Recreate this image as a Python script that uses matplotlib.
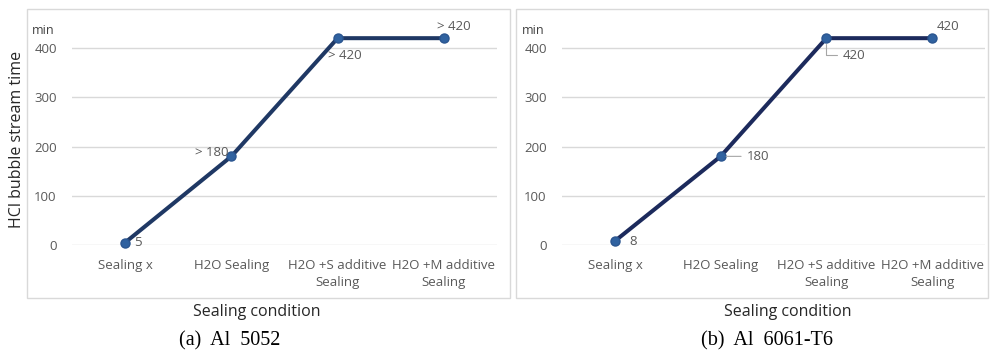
import matplotlib
matplotlib.use("Agg")
import matplotlib.pyplot as plt
from matplotlib.patches import Rectangle

# data
categories = ["Sealing x", "H2O Sealing", "H2O +S additive\nSealing", "H2O +M additive\nSealing"]
time_5052 = [5, 180, 420, 420]
time_6061 = [8, 180, 420, 420]
labels_5052 = ["5", "> 180", "> 420", "> 420"]
labels_6061 = ["8", "180", "420", "420"]
yticks = [0, 100, 200, 300, 400]

W, H = 990, 357
GRAY = "#595959"
GRID = "#D9D9D9"
plt.rcParams["font.family"] = ["Open Sans", "DejaVu Sans"]

fig = plt.figure(figsize=(W / 100, H / 100), dpi=100)


def px_box(x0, y0, x1, y1):
    """pixel box (top-left origin) -> figure fraction [l, b, w, h]"""
    return [x0 / W, 1 - y1 / H, (x1 - x0) / W, (y1 - y0) / H]


def panel(border, plot, values, labels, line_color, label_style, xlab_x, caption, cap_x):
    l, b, w, h = px_box(*border)
    fig.patches.append(Rectangle((l, b), w, h, transform=fig.transFigure,
                                 fill=False, edgecolor=GRID, linewidth=1.0))
    ax = fig.add_axes(px_box(*plot))
    x = list(range(len(categories)))
    ax.set_xlim(-0.5, len(categories) - 0.5)
    ax.set_ylim(0, 450)
    ax.set_yticks(yticks)
    ax.set_xticks(x)
    ax.set_xticklabels(categories, linespacing=1.45)
    for s in ax.spines.values():
        s.set_visible(False)
    ax.tick_params(length=0, labelsize=9.5, labelcolor=GRAY)
    ax.tick_params(axis="y", pad=11)
    ax.tick_params(axis="x", pad=10)
    for yv in yticks:
        ax.axhline(yv, color=GRID, linewidth=1.0, zorder=0)
    ax.plot(x, values, color=line_color, linewidth=2.9, zorder=2,
            marker="o", markersize=6.5, markerfacecolor="#3062A0",
            markeredgecolor="#2A5590", clip_on=False)
    ax.text(-0.068, 0.97, "min", transform=ax.transAxes, fontsize=9,
            color="#404040", ha="center", va="center")

    for xi, yi, lab in zip(x, values, labels):
        dx, dy, ha, lead = label_style[xi]
        kw = {}
        if lead == "h":
            kw["arrowprops"] = dict(arrowstyle="-", color="#A6A6A6", lw=0.8,
                                    shrinkA=2, shrinkB=4)
        elif lead == "l":
            kw["arrowprops"] = dict(arrowstyle="-", color="#A6A6A6", lw=0.8,
                                    shrinkA=2, shrinkB=4,
                                    connectionstyle="angle,angleA=0,angleB=90,rad=0")
        ax.annotate(lab, xy=(xi, yi), xytext=(dx, dy), textcoords="offset pixels",
                    ha=ha, va="center", fontsize=9.5, color=GRAY, zorder=3, **kw)

    fig.text(xlab_x / W, 1 - 312 / H, "Sealing condition", fontsize=11.5,
             color="#262626", ha="center", va="center")
    fig.text(cap_x / W, 1 - 341 / H, caption, fontsize=14.5,
             family="Liberation Serif", ha="center", va="center")
    return ax


style_a = {0: (9, 0, "left", None), 1: (-3, 4, "right", None),
           2: (-10, -17, "left", None), 3: (-7, 12, "left", None)}
style_b = {0: (14, 0, "left", None), 1: (26, 0, "left", "h"),
           2: (16, -17, "left", "l"), 3: (5, 12, "left", None)}

ax_a = panel((27, 9, 510, 298), (72, 23.4, 497, 245), time_5052, labels_5052,
             "#1F3864", style_a, 257, "(a)  Al  5052", 230)
ax_b = panel((516, 9, 988, 298), (562, 23.4, 985, 245), time_6061, labels_6061,
             "#1C2A5C", style_b, 788, "(b)  Al  6061-T6", 767)

fig.text(17 / W, 1 - 139 / H, "HCl bubble stream time", rotation=90,
         fontsize=11.5, color="#262626", ha="center", va="center")

fig.savefig("out.png", dpi=100)
